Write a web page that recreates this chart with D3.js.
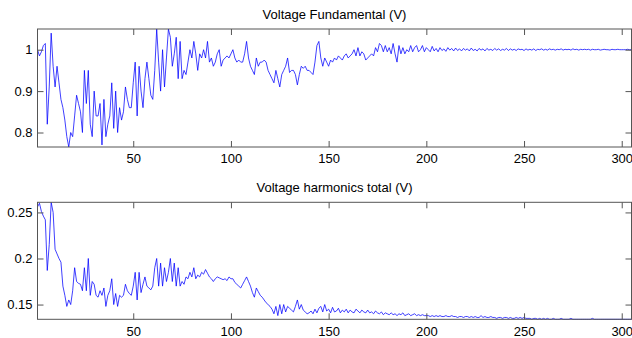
<!DOCTYPE html>
<html>
<head>
<meta charset="utf-8">
<script src="https://cdn.jsdelivr.net/npm/d3@7"></script>
<style>
  body { margin: 0; background: #fff; }
  svg { display: block; }
  .tick text { font-family: "Liberation Sans", Arial, sans-serif; font-size: 13px; fill: #000; }
  .tick line { stroke: #555; }
  .title { font-family: "Liberation Sans", Arial, sans-serif; font-size: 13px; fill: #000; }
</style>
</head>
<body>
<div id="chart"></div>
<script>
// Voltage fundamental, samples 1..305
var fundamental = [
  1.00, 0.985, 0.995, 1.01, 1.015, 0.82, 0.91, 1.04, 0.96, 0.91, 0.96, 0.92, 0.88, 0.86, 0.83, 0.79, 0.765, 0.80, 0.79, 0.84,
  0.89, 0.87, 0.85, 0.80, 0.95, 0.87, 0.95, 0.82, 0.79, 0.90, 0.84, 0.84, 0.87, 0.77, 0.88, 0.79, 0.82, 0.84, 0.92, 0.81,
  0.90, 0.80, 0.86, 0.83, 0.85, 0.91, 0.88, 0.86, 0.86, 0.92, 0.97, 0.84, 0.96, 0.90, 0.86, 0.93, 0.97, 0.93, 0.89, 0.88,
  0.95, 1.05, 0.97, 0.90, 1.00, 0.91, 0.98, 1.05, 1.03, 0.96, 0.99, 1.03, 0.93, 1.02, 0.93, 0.95, 0.94, 0.97, 1.00, 0.98,
  1.02, 0.99, 0.95, 0.99, 0.98, 1.00, 0.98, 1.02, 0.97, 0.98, 0.96, 0.97, 0.99, 1.00, 0.96, 0.975, 0.98, 0.985, 0.98, 0.99,
  1.00, 0.98, 0.97, 0.975, 0.97, 0.97, 0.99, 1.02, 0.98, 0.96, 0.95, 0.94, 0.98, 0.96, 0.97, 0.97, 0.975, 0.97, 0.95, 0.94,
  0.93, 0.92, 0.95, 0.93, 0.91, 0.94, 0.95, 0.96, 0.98, 0.945, 0.95, 0.95, 0.94, 0.915, 0.94, 0.96, 0.955, 0.96, 0.95, 0.95,
  0.945, 0.94, 0.97, 1.01, 1.02, 0.98, 0.96, 0.98, 0.97, 0.96, 0.975, 0.97, 0.98, 0.975, 0.985, 0.98, 0.975, 0.985, 0.99, 0.98,
  0.985, 0.99, 1.00, 0.985, 1.005, 0.985, 0.995, 0.99, 0.975, 0.98, 0.985, 0.99, 0.985, 1.005, 0.995, 1.015, 1.01, 0.995, 1.01, 0.995,
  1.005, 0.99, 1.015, 0.99, 0.97, 1.01, 0.99, 1.005, 0.99, 1.00, 0.995, 1.01, 0.995, 1.005, 1.01, 0.995, 1.00, 1.01, 0.995, 1.005,
  1.00, 0.995, 1.008, 0.997, 1.003, 0.995, 1.005, 0.998, 1.002, 0.996, 1.005, 0.999, 1.003, 0.997, 1.004, 0.998, 1.002, 0.997, 1.003, 0.999,
  1.002, 0.997, 1.004, 0.998, 1.001, 0.997, 1.003, 0.999, 1.002, 0.997, 1.003, 0.999, 1.001, 0.998, 1.003, 0.999, 1.002, 0.998, 1.001, 0.999,
  1.003, 0.998, 1.002, 0.999, 1.001, 0.998, 1.002, 1.00, 1.001, 0.998, 1.002, 0.999, 1.001, 0.999, 1.002, 0.998, 1.001, 1.00, 1.002, 0.999,
  1.001, 0.999, 1.002, 1.00, 1.001, 0.999, 1.001, 1.00, 1.002, 0.999, 1.001, 1.00, 1.001, 0.999, 1.002, 1.00, 1.001, 0.999, 1.001, 1.00,
  1.001, 1.00, 1.001, 0.999, 1.001, 1.00, 1.00, 1.001, 0.999, 1.00, 1.001, 1.00, 1.00, 0.999, 1.001, 1.00, 1.00, 1.001, 1.00, 1.00,
  1.00, 1.00, 1.001, 1.00, 1.00
];

// Voltage harmonics total, samples 1..305
var harmonics = [
  0.256, 0.26, 0.251, 0.246, 0.242, 0.187, 0.215, 0.261, 0.25, 0.21, 0.205, 0.20, 0.196, 0.17, 0.16, 0.148, 0.155, 0.15, 0.165, 0.19,
  0.175, 0.173, 0.172, 0.165, 0.19, 0.165, 0.20, 0.16, 0.175, 0.172, 0.16, 0.158, 0.165, 0.16, 0.168, 0.148, 0.16, 0.165, 0.178, 0.15,
  0.162, 0.148, 0.16, 0.158, 0.16, 0.172, 0.165, 0.162, 0.16, 0.17, 0.185, 0.155, 0.185, 0.163, 0.172, 0.18, 0.17, 0.168, 0.166, 0.17,
  0.19, 0.20, 0.17, 0.195, 0.17, 0.19, 0.175, 0.185, 0.20, 0.175, 0.195, 0.17, 0.19, 0.17, 0.175, 0.172, 0.18, 0.178, 0.185, 0.18,
  0.19, 0.178, 0.182, 0.18, 0.185, 0.183, 0.188, 0.184, 0.18, 0.178, 0.175, 0.178, 0.18, 0.179, 0.178, 0.177, 0.178, 0.176, 0.18, 0.178,
  0.178, 0.174, 0.172, 0.17, 0.168, 0.172, 0.176, 0.18, 0.175, 0.17, 0.163, 0.158, 0.168, 0.164, 0.16, 0.158, 0.155, 0.152, 0.15, 0.148,
  0.145, 0.14, 0.148, 0.138, 0.15, 0.14, 0.15, 0.142, 0.148, 0.146, 0.144, 0.142, 0.148, 0.155, 0.145, 0.15, 0.144, 0.142, 0.14, 0.141,
  0.143, 0.14, 0.145, 0.141, 0.146, 0.148, 0.142, 0.15, 0.143, 0.145, 0.141, 0.147, 0.142, 0.143, 0.146, 0.141, 0.144, 0.142, 0.145, 0.141,
  0.144, 0.142, 0.141, 0.145, 0.143, 0.141, 0.144, 0.142, 0.141, 0.144, 0.141, 0.142, 0.14, 0.143, 0.141, 0.14, 0.142, 0.139, 0.141, 0.14,
  0.139, 0.141, 0.139, 0.14, 0.138, 0.14, 0.139, 0.141, 0.138, 0.139, 0.14, 0.138, 0.139, 0.14, 0.138, 0.139, 0.138, 0.139, 0.138, 0.138,
  0.138, 0.137, 0.138, 0.137, 0.138, 0.137, 0.138, 0.137, 0.137, 0.138, 0.137, 0.137, 0.138, 0.137, 0.137, 0.136, 0.137, 0.137, 0.136, 0.137,
  0.137, 0.136, 0.137, 0.136, 0.137, 0.136, 0.136, 0.138, 0.136, 0.137, 0.136, 0.136, 0.137, 0.136, 0.136, 0.135, 0.136, 0.136, 0.135, 0.136,
  0.136, 0.135, 0.136, 0.135, 0.135, 0.136, 0.135, 0.136, 0.135, 0.136, 0.135, 0.135, 0.135, 0.134, 0.135, 0.135, 0.134, 0.135, 0.134, 0.135,
  0.134, 0.135, 0.134, 0.134, 0.135, 0.134, 0.134, 0.134, 0.135, 0.134, 0.134, 0.134, 0.134, 0.135, 0.134, 0.134, 0.134, 0.134, 0.134, 0.134,
  0.134, 0.134, 0.134, 0.134, 0.135, 0.134, 0.134, 0.134, 0.134, 0.134, 0.134, 0.134, 0.134, 0.134, 0.134, 0.134, 0.134, 0.134, 0.134, 0.134,
  0.134, 0.134, 0.134, 0.134, 0.134
];

var xTicks = [50, 100, 150, 200, 250, 300];
var fundTicks = [0.8, 0.9, 1];
var harmTicks = [0.15, 0.2, 0.25];
var titles = ["Voltage Fundamental (V)", "Voltage harmonics total (V)"];

var W = 632, H = 338;
var left = 37.5, right = 631.5;

var svg = d3.select("#chart").append("svg")
    .attr("width", W)
    .attr("height", H);

function drawPanel(values, yTicks, title, top, bottom) {
    var x = d3.scaleLinear()
        .domain([1, values.length])
        .range([left, right]);

    var y = d3.scaleLinear()
        .domain(d3.extent(values))
        .range([bottom, top]);

    var g = svg.append("g");

    // line
    var line = d3.line()
        .x(function (d, i) { return x(i + 1); })
        .y(function (d) { return y(d); });

    g.append("path")
        .datum(values)
        .attr("fill", "none")
        .attr("stroke", "#0000ff")
        .attr("stroke-width", 0.75)
        .attr("d", line);

    // axes, ticks pointing inward like matlab
    g.append("g")
        .attr("transform", "translate(0," + bottom + ")")
        .call(d3.axisBottom(x).tickValues(xTicks).tickFormat(d3.format("d"))
            .tickSizeInner(-6).tickSizeOuter(0).tickPadding(7));

    g.append("g")
        .attr("transform", "translate(0," + top + ")")
        .call(d3.axisTop(x).tickValues(xTicks).tickFormat("")
            .tickSizeInner(-6).tickSizeOuter(0));

    g.append("g")
        .attr("transform", "translate(" + left + ",0)")
        .call(d3.axisLeft(y).tickValues(yTicks).tickFormat(function (d) { return String(d); })
            .tickSizeInner(-6).tickSizeOuter(0).tickPadding(5));

    g.append("g")
        .attr("transform", "translate(" + right + ",0)")
        .call(d3.axisRight(y).tickValues(yTicks).tickFormat("")
            .tickSizeInner(-6).tickSizeOuter(0));

    g.selectAll(".domain").remove();

    g.append("rect")
        .attr("x", left)
        .attr("y", top)
        .attr("width", right - left)
        .attr("height", bottom - top)
        .attr("fill", "none")
        .attr("stroke", "#555")
        .attr("stroke-width", 1);

    g.append("text")
        .attr("class", "title")
        .attr("x", (left + right) / 2)
        .attr("y", top - 10)
        .style("text-anchor", "middle")
        .text(title);
}

drawPanel(fundamental, fundTicks, titles[0], 29, 147);
drawPanel(harmonics, harmTicks, titles[1], 202.3, 319.3);
</script>
</body>
</html>
